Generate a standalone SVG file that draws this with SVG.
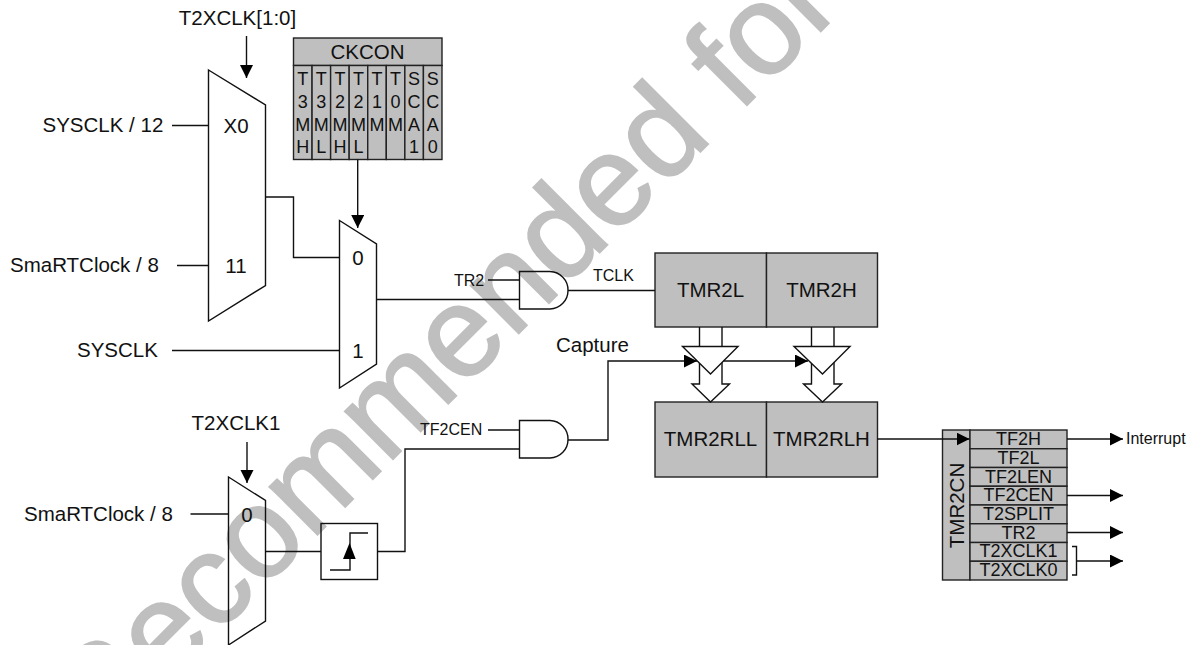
<svg xmlns="http://www.w3.org/2000/svg" width="1191" height="645" viewBox="0 0 1191 645">
<style>
text{font-family:"Liberation Sans",Arial,sans-serif;fill:#111;font-size:20.5px}
.m{text-anchor:middle}
.s{font-size:16px}
.r{font-size:18px;text-anchor:middle}
.wm{font-size:128px;fill:#bfbfbf;stroke:#bfbfbf;stroke-width:2}
.w{fill:#fff;stroke:#111;stroke-width:1.4}
.n{fill:none;stroke:#111;stroke-width:1.4}
.g{fill:#bfbfbf;stroke:#222;stroke-width:1.4}
.l{fill:none;stroke:#111;stroke-width:1.4}
.a{fill:none;stroke:#111;stroke-width:1.4;marker-end:url(#ah)}
</style>
<defs><marker id="ah" markerUnits="userSpaceOnUse" markerWidth="14" markerHeight="14" refX="13" refY="6.5" orient="auto"><path d="M0,0L13,6.5L0,13Z" fill="#000"/></marker></defs>
<rect width="1191" height="645" fill="#fff"/>
<text class="wm" transform="translate(100,752) rotate(-45)">Recommended for</text>
<g id="mux1"><polygon class="n" points="208.5,70 265.5,105 265.5,285.5 208.5,321"/><text class="m" x="236" y="133">X0</text><text class="m" x="236" y="273">11</text></g>
<g id="mux2"><polygon class="n" points="339.5,220.5 376.5,244 376.5,364 339.5,388"/><text class="m" x="358" y="265">0</text><text class="m" x="358" y="358">1</text></g>
<g id="mux3"><polygon class="n" points="228.5,477 265.5,500.5 265.5,621 228.5,645"/><text class="m" x="247" y="522">0</text></g>
<g id="labels">
<text x="237.500" y="25" class="m">T2XCLK[1:0]</text>
<text x="42.500" y="132">SYSCLK / 12</text>
<text x="10" y="272">SmaRTClock / 8</text>
<text x="77" y="357">SYSCLK</text>
<text x="236" y="430" class="m">T2XCLK1</text>
<text x="24" y="521">SmaRTClock / 8</text>
<text x="454" y="286" class="s">TR2</text>
<text x="593" y="281" class="s">TCLK</text>
<text x="556" y="352">Capture</text>
<text x="420" y="435" class="s">TF2CEN</text>
<text x="1126" y="444" class="s">Interrupt</text>
</g>
<g id="ckcon">
<rect class="g" x="293.500" y="38" width="148.500" height="27.500"/>
<text class="m" x="367.500" y="59">CKCON</text>
<rect class="g" x="293.500" y="65.500" width="18.560" height="94"/>
<rect class="g" x="312.060" y="65.500" width="18.560" height="94"/>
<rect class="g" x="330.620" y="65.500" width="18.560" height="94"/>
<rect class="g" x="349.180" y="65.500" width="18.560" height="94"/>
<rect class="g" x="367.740" y="65.500" width="18.560" height="94"/>
<rect class="g" x="386.300" y="65.500" width="18.560" height="94"/>
<rect class="g" x="404.860" y="65.500" width="18.560" height="94"/>
<rect class="g" x="423.420" y="65.500" width="18.560" height="94"/>
<g class="cols">
<text class="r" x="302.800" y="85">T</text><text class="r" x="302.800" y="108">3</text><text class="r" x="302.800" y="131">M</text><text class="r" x="302.800" y="152.500">H</text>
<text class="r" x="321.300" y="85">T</text><text class="r" x="321.300" y="108">3</text><text class="r" x="321.300" y="131">M</text><text class="r" x="321.300" y="152.500">L</text>
<text class="r" x="339.900" y="85">T</text><text class="r" x="339.900" y="108">2</text><text class="r" x="339.900" y="131">M</text><text class="r" x="339.900" y="152.500">H</text>
<text class="r" x="358.500" y="85">T</text><text class="r" x="358.500" y="108">2</text><text class="r" x="358.500" y="131">M</text><text class="r" x="358.500" y="152.500">L</text>
<text class="r" x="377" y="85">T</text><text class="r" x="377" y="108">1</text><text class="r" x="377" y="131">M</text>
<text class="r" x="395.600" y="85">T</text><text class="r" x="395.600" y="108">0</text><text class="r" x="395.600" y="131">M</text>
<text class="r" x="414.100" y="85">S</text><text class="r" x="414.100" y="108">C</text><text class="r" x="414.100" y="131">A</text><text class="r" x="414.100" y="152.500">1</text>
<text class="r" x="432.700" y="85">S</text><text class="r" x="432.700" y="108">C</text><text class="r" x="432.700" y="131">A</text><text class="r" x="432.700" y="152.500">0</text>
</g>
</g>
<g id="and1"><path class="n" d="M519.500,271.500H550A18.500,18.500 0 0 1 568,290.250A18.500,18.500 0 0 1 550,309H519.500Z"/></g>
<g id="and2"><path class="n" d="M519.500,420.500H550A18.500,18.500 0 0 1 568,439.250A18.500,18.500 0 0 1 550,458H519.500Z"/></g>
<g id="edge"><rect class="n" x="321" y="523.500" width="56.500" height="56"/><path class="l" d="M330,570H350V533H368"/><path d="M343,559L349.500,543L355.700,559Z" fill="#000"/></g>
<g id="tmr2l"><rect class="g" x="655" y="253" width="111.500" height="74"/><text class="m" x="710.500" y="297">TMR2L</text></g>
<g id="tmr2h"><rect class="g" x="766.500" y="253" width="111" height="74"/><text class="m" x="821.500" y="297">TMR2H</text></g>
<g id="tmr2rll"><rect class="g" x="655" y="402" width="111.500" height="75"/><text class="m" x="710.500" y="446">TMR2RLL</text></g>
<g id="tmr2rlh"><rect class="g" x="766.500" y="402" width="111" height="75"/><text class="m" x="821.500" y="446">TMR2RLH</text></g>
<g id="latch1"><path class="w" d="M692,384H699.500V360H722V384H729.500L710.500,402Z"/><polygon class="w" points="682.500,346.500 738,346.500 710.500,374"/></g>
<g id="latch2"><path class="w" d="M803.500,384H811.500V360H834V384H841.500L822.500,402Z"/><polygon class="w" points="794,346.500 850,346.500 822.500,374"/></g>
<g id="tmr2cn">
<rect class="g" x="942.500" y="430" width="27.500" height="150"/>
<text class="m" transform="translate(963.500,505.500) rotate(-90)">TMR2CN</text>
<rect class="g" x="970" y="430" width="97" height="18.750"/><text class="r" x="1018.500" y="445">TF2H</text>
<rect class="g" x="970" y="448.750" width="97" height="18.750"/><text class="r" x="1018.500" y="464">TF2L</text>
<rect class="g" x="970" y="467.500" width="97" height="18.750"/><text class="r" x="1018.500" y="482.500">TF2LEN</text>
<rect class="g" x="970" y="486.250" width="97" height="18.750"/><text class="r" x="1018.500" y="501">TF2CEN</text>
<rect class="g" x="970" y="505" width="97" height="18.750"/><text class="r" x="1018.500" y="520">T2SPLIT</text>
<rect class="g" x="970" y="523.750" width="97" height="18.750"/><text class="r" x="1018.500" y="538.500">TR2</text>
<rect class="g" x="970" y="542.500" width="97" height="18.750"/><text class="r" x="1018.500" y="557">T2XCLK1</text>
<rect class="g" x="970" y="561.250" width="97" height="18.750"/><text class="r" x="1018.500" y="576">T2XCLK0</text>
</g>
<g id="connectors">
<path class="a" d="M246.500,36V78"/>
<path class="a" d="M357.700,159.500V228"/>
<path class="a" d="M247,442V483"/>
<path class="l" d="M172,125.500H208.500M177,265.500H208.500M172,350.500H339.500M265.500,197H293.500V257.500H339.500M376.500,299.500H519.500M488,280H519.500M568,290.500H655M488,430H519.500M190.500,514H228.500M265.500,551.500H321M377.500,551.500H405V449H519.500M699.500,327V346.500M722,327V346.500M811.500,327V346.500M834,327V346.500"/>
<path class="a" d="M877,439H969.500"/>
<path class="a" d="M1067,439H1123"/>
<path class="a" d="M1067,495.500H1123"/>
<path class="a" d="M1067,532.500H1123"/>
<path class="l" d="M1072,546.500H1076.500V575H1072"/>
<path class="a" d="M1076.500,561H1123"/>
<path class="a" d="M568,440H608V361H697"/>
<path class="a" d="M723.500,361H808"/>
</g>
</svg>
